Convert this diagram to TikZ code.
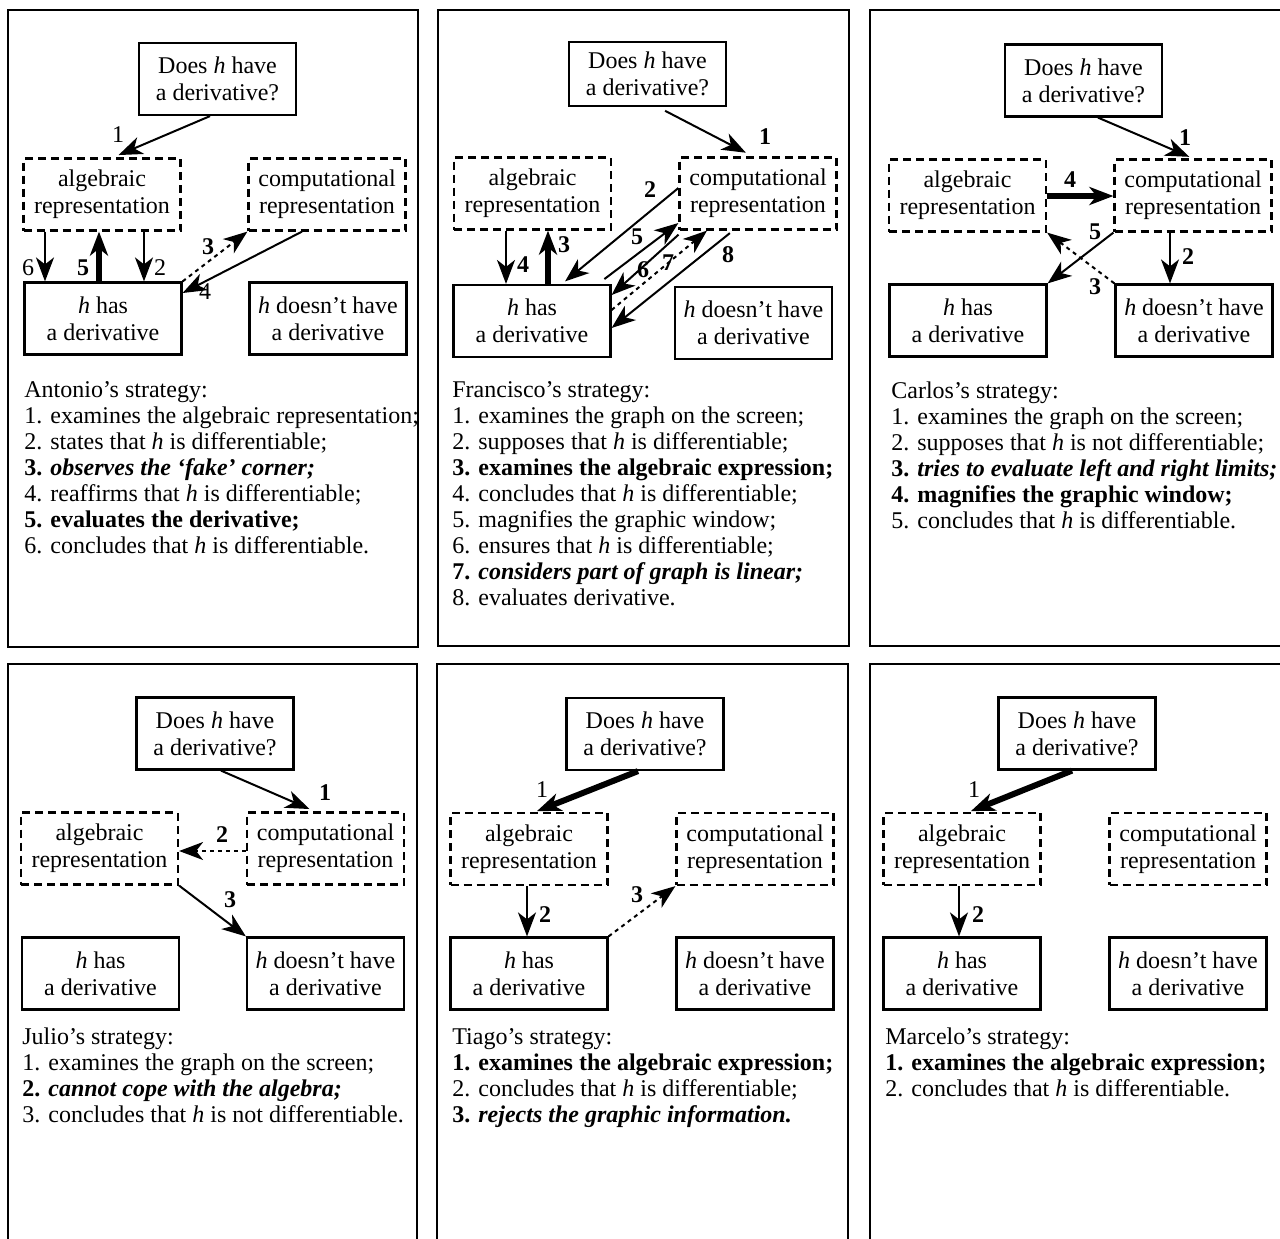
\documentclass[tikz,border=0pt]{standalone}
\usepackage{fontspec}
\setmainfont{Liberation Serif}
\usetikzlibrary{arrows.meta}
\begin{document}
\begin{tikzpicture}[x=0.5pt,y=-0.5pt,
  qbox/.style={draw, line width=1.1pt, inner sep=0pt, align=center,
    minimum width=78.5pt, minimum height=36pt, font=\fontsize{12}{13.5}\selectfont},
  dbox/.style={qbox, dash pattern=on 4pt off 2.5pt},
  conn/.style={line width=1pt, -{Stealth[length=12pt,width=9pt,inset=3.5pt]}},
  thickconn/.style={conn, line width=3pt},
  dotconn/.style={conn, dash pattern=on 2pt off 2pt},
  num/.style={inner sep=0pt, font=\fontsize{12}{14}\selectfont},
  bnum/.style={inner sep=0pt, font=\fontsize{12}{14}\selectfont\bfseries},
  listline/.style={anchor=base west, inner sep=0pt, font=\fontsize{12}{13}\selectfont},
  panelframe/.style={draw, line width=1.1pt}]
\useasboundingbox (0,0) rectangle (1280,1238);
\clip (0,0) rectangle (1280,1238);
\fill[white] (0,0) rectangle (1280,1238);

% ---------- panel frames ----------
\draw[panelframe] (8,10) rectangle (418,647);
\draw[panelframe] (438,10) rectangle (849,646);
\draw[panelframe] (870,10) rectangle (1295,646);
\draw[panelframe] (8,664) rectangle (417,1270);
\draw[panelframe] (437,664) rectangle (848,1270);
\draw[panelframe] (870,664) rectangle (1295,1270);

% ================= Panel 1: Antonio =================
\node[qbox] (q1) at (217.5,79) {Does \textit{h} have\\a derivative?};
\node[dbox] (a1) at (102,194.5) {algebraic\\representation};
\node[dbox] (c1) at (327,194.5) {computational\\representation};
\node[qbox] (h1) at (103,318.5) {\textit{h} has\\a derivative};
\node[qbox] (n1) at (328,318.5) {\textit{h} doesn’t have\\a derivative};

\draw[conn, shorten >=3pt] (q1.south -| 210,0) -- (a1.north -| 113,0);
\draw[conn] (a1.south -| 144,0) -- (h1.north -| 144,0);
\draw[conn] (a1.south -| 45,0) -- (h1.north -| 45,0);
\draw[thickconn] (h1.north -| 99,0) -- (a1.south -| 99,0);
\draw[dotconn] (h1.north east) -- (c1.south west);
\draw[conn] (c1.south -| 302,0) -- (h1.east |- 0,293);
\node[num] (l1a) at (118,135) {1};
\node[num] (l1b) at (160,268) {2};
\node[bnum] (l1c) at (208,247) {3};
\node[num] (l1d) at (205,292) {4};
\node[bnum] (l1e) at (83,268) {5};
\node[num] (l1f) at (28,268) {6};

\node[listline] (t1a) at (24,397) {Antonio’s strategy:};
\node[listline] (t1b) at (24,423) {1. examines the algebraic representation;};
\node[listline] (t1c) at (24,449) {2. states that \textit{h} is differentiable;};
\node[listline] (t1d) at (24,475) {\bfseries 3. \textit{observes the ‘fake’ corner;}};
\node[listline] (t1e) at (24,501) {4. reaffirms that \textit{h} is differentiable;};
\node[listline] (t1f) at (24,527) {\bfseries 5. evaluates the derivative;};
\node[listline] (t1g) at (24,553) {6. concludes that \textit{h} is differentiable.};

% ================= Panel 2: Francisco =================
\node[qbox, minimum height=32pt] (q2) at (647.5,74) {Does \textit{h} have\\a derivative?};
\node[dbox] (a2) at (532.5,193.5) {algebraic\\representation};
\node[dbox] (c2) at (758,193.5) {computational\\representation};
\node[qbox] (h2) at (532,321) {\textit{h} has\\a derivative};
\node[qbox] (n2) at (753.5,323) {\textit{h} doesn’t have\\a derivative};

\draw[conn, shorten >=4pt, shorten <=4pt] (q2.south -| 658,0) -- (c2.north -| 753,0);
\draw[conn] (a2.south -| 506,0) -- (h2.north -| 506,0);
\draw[thickconn] (h2.north -| 548,0) -- (a2.south -| 548,0);
\draw[conn, shorten >=2pt] (c2.west |- 0,188) -- (h2.north -| 562,0);
\draw[conn, shorten <=4pt] (h2.north -| 598,0) -- (c2.west |- 0,223);
\draw[conn, shorten <=3pt] (c2.south -| 683,0) -- (h2.east |- 0,295);
\draw[dotconn] (h2.east |- 0,310) -- (c2.south -| 707,0);
\draw[conn, shorten <=2pt] (c2.south -| 733,0) -- (h2.east |- 0,328);
\node[bnum] (l2a) at (765,137) {1};
\node[bnum] (l2b) at (650,190) {2};
\node[bnum] (l2c) at (564,245) {3};
\node[bnum] (l2d) at (523,265) {4};
\node[bnum] (l2e) at (637,237) {5};
\node[bnum] (l2f) at (643,270) {6};
\node[bnum] (l2g) at (668,263) {7};
\node[bnum] (l2h) at (728,255) {8};

\node[listline] (t2a) at (452,397) {Francisco’s strategy:};
\node[listline] (t2b) at (452,423) {1. examines the graph on the screen;};
\node[listline] (t2c) at (452,449) {2. supposes that \textit{h} is differentiable;};
\node[listline] (t2d) at (452,475) {\bfseries 3. examines the algebraic expression;};
\node[listline] (t2e) at (452,501) {4. concludes that \textit{h} is differentiable;};
\node[listline] (t2f) at (452,527) {5. magnifies the graphic window;};
\node[listline] (t2g) at (452,553) {6. ensures that \textit{h} is differentiable;};
\node[listline] (t2h) at (452,579) {\bfseries 7. \textit{considers part of graph is linear;}};
\node[listline] (t2i) at (452,605) {8. evaluates derivative.};

% ================= Panel 3: Carlos =================
\node[qbox] (q3) at (1083.5,80.5) {Does \textit{h} have\\a derivative?};
\node[dbox] (a3) at (967.5,195.5) {algebraic\\representation};
\node[dbox] (c3) at (1193,195.5) {computational\\representation};
\node[qbox] (h3) at (968,320.5) {\textit{h} has\\a derivative};
\node[qbox] (n3) at (1194,320.5) {\textit{h} doesn’t have\\a derivative};

\draw[conn, shorten >=2pt] (q3.south -| 1098,0) -- (c3.north -| 1193,0);
\draw[thickconn] (a3.east |- 0,196) -- (c3.west |- 0,196);
\draw[conn] (c3.south -| 1170,0) -- (n3.north -| 1170,0);
\draw[conn] (c3.south west) -- (h3.north east);
\draw[dotconn] (n3.north west) -- (a3.south east);
\node[bnum] (l3a) at (1185,138) {1};
\node[bnum] (l3b) at (1188,257) {2};
\node[bnum] (l3c) at (1095,287) {3};
\node[bnum] (l3d) at (1070,180) {4};
\node[bnum] (l3e) at (1095,232) {5};

\node[listline] (t3a) at (891,398) {Carlos’s strategy:};
\node[listline] (t3b) at (891,424) {1. examines the graph on the screen;};
\node[listline] (t3c) at (891,450) {2. supposes that \textit{h} is not differentiable;};
\node[listline] (t3d) at (891,476) {\bfseries 3. \textit{tries to evaluate left and right limits;}};
\node[listline] (t3e) at (891,502) {\bfseries 4. magnifies the graphic window;};
\node[listline] (t3f) at (891,528) {5. concludes that \textit{h} is differentiable.};

% ================= Panel 4: Julio =================
\node[qbox] (q4) at (215,733.5) {Does \textit{h} have\\a derivative?};
\node[dbox] (a4) at (99.5,848.5) {algebraic\\representation};
\node[dbox] (c4) at (325.5,848.5) {computational\\representation};
\node[qbox] (h4) at (100.5,973.5) {\textit{h} has\\a derivative};
\node[qbox] (n4) at (325.5,973.5) {\textit{h} doesn’t have\\a derivative};

\draw[conn, shorten >=3pt] (q4.south -| 221,0) -- (c4.north -| 315,0);
\draw[dotconn] (c4.west |- 0,851) -- (a4.east |- 0,851);
\draw[conn] (a4.south east) -- (n4.north west);
\node[bnum] (l4a) at (325,793) {1};
\node[bnum] (l4b) at (222,835) {2};
\node[bnum] (l4c) at (230,900) {3};

\node[listline] (t4a) at (22,1044) {Julio’s strategy:};
\node[listline] (t4b) at (22,1070) {1. examines the graph on the screen;};
\node[listline] (t4c) at (22,1096) {\bfseries 2. \textit{cannot cope with the algebra;}};
\node[listline] (t4d) at (22,1122) {3. concludes that \textit{h} is not differentiable.};

% ================= Panel 5: Tiago =================
\node[qbox] (q5) at (645,734) {Does \textit{h} have\\a derivative?};
\node[dbox] (a5) at (529,849) {algebraic\\representation};
\node[dbox] (c5) at (755,849) {computational\\representation};
\node[qbox] (h5) at (529,973.5) {\textit{h} has\\a derivative};
\node[qbox] (n5) at (755,973.5) {\textit{h} doesn’t have\\a derivative};

\draw[thickconn, shorten >=1pt] (q5.south -| 638,0) -- (a5.north -| 535,0);
\draw[conn] (a5.south -| 527,0) -- (h5.north -| 527,0);
\draw[dotconn] (h5.north east) -- (c5.south west);
\node[num] (l5a) at (542,790) {1};
\node[bnum] (l5b) at (545,915) {2};
\node[bnum] (l5c) at (637,895) {3};

\node[listline] (t5a) at (452,1044) {Tiago’s strategy:};
\node[listline] (t5b) at (452,1070) {\bfseries 1. examines the algebraic expression;};
\node[listline] (t5c) at (452,1096) {2. concludes that \textit{h} is differentiable;};
\node[listline] (t5d) at (452,1122) {\bfseries 3. \textit{rejects the graphic information.}};

% ================= Panel 6: Marcelo =================
\node[qbox] (q6) at (1077,733.5) {Does \textit{h} have\\a derivative?};
\node[dbox] (a6) at (962,849) {algebraic\\representation};
\node[dbox] (c6) at (1188,849) {computational\\representation};
\node[qbox] (h6) at (962,973.5) {\textit{h} has\\a derivative};
\node[qbox] (n6) at (1188,973.5) {\textit{h} doesn’t have\\a derivative};

\draw[thickconn, shorten >=1pt] (q6.south -| 1072,0) -- (a6.north -| 969,0);
\draw[conn] (a6.south -| 959,0) -- (h6.north -| 959,0);
\node[num] (l6a) at (974,790) {1};
\node[bnum] (l6b) at (978,915) {2};

\node[listline] (t6a) at (885,1044) {Marcelo’s strategy:};
\node[listline] (t6b) at (885,1070) {\bfseries 1. examines the algebraic expression;};
\node[listline] (t6c) at (885,1096) {2. concludes that \textit{h} is differentiable.};
\end{tikzpicture}
\end{document}
